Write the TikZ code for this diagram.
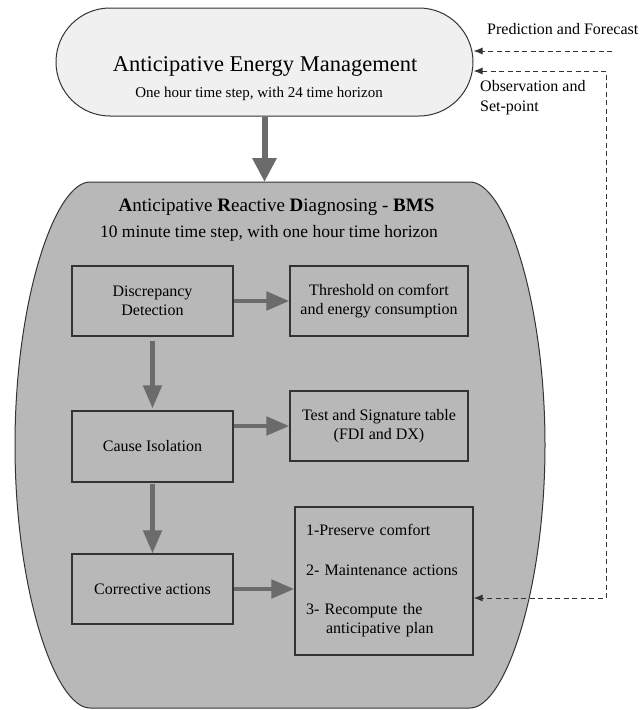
\documentclass[tikz,border=0pt]{standalone}
\usepackage{fontspec}
\setmainfont{Liberation Serif}
\usetikzlibrary{arrows.meta,shapes.misc}
\definecolor{grisfond}{HTML}{B8B8B8}
\definecolor{grisclair}{HTML}{F0F0F0}
\definecolor{grisfleche}{HTML}{6B6B6B}
\definecolor{trait}{HTML}{333333}
\begin{document}
\begin{tikzpicture}[x=1pt,y=-1pt]
% Styles
\tikzstyle{cadre}=[draw=trait,line width=1.2pt,inner sep=0pt,align=center,font=\fontsize{16}{19}\selectfont]
\tikzstyle{fleche}=[-{Triangle[length=23pt,width=18pt]},line width=4.8pt,draw=grisfleche]
\tikzstyle{pointille}=[->,>={Latex[length=9pt,width=7pt]},draw=trait,line width=1pt,dash pattern=on 5pt off 3.5pt]
\tikzstyle{texte}=[inner sep=0pt,font=\fontsize{16}{20}\selectfont]
% Dimensions
\def\colG{152.5}
\def\colD{379}
\def\LrgG{161pt}
\def\LrgD{178pt}
\def\HtB{70pt}
% Cadre de l'image
\useasboundingbox (0,0) rectangle (642,710);
% Zone BMS
\draw[draw=trait,line width=1pt,fill=grisfond] (90,182) -- (470,182)
  .. controls (505,182) and (545,300) .. (545,445)
  .. controls (545,590) and (505,708) .. (470,708) -- (90,708)
  .. controls (55,708) and (15,590) .. (15,445)
  .. controls (15,300) and (55,182) .. (90,182) -- cycle;
\coordinate (bmshaut) at (264.5,182);
\node[anchor=base,inner sep=0pt,font=\fontsize{19}{22}\selectfont] (bmstitre) at (276.5,211) {\textbf{A}nticipative \textbf{R}eactive \textbf{D}iagnosing - \textbf{BMS}};
\node[anchor=base,inner sep=0pt,font=\fontsize{17.5}{21}\selectfont] (bmssous) at (269,237) {10 minute time step, with one hour time horizon};
% Gestion anticipative
\node[rounded rectangle,draw=trait,line width=1pt,fill=grisclair,minimum width=417pt,minimum height=108pt,inner sep=0pt] (aem) at (264.5,62) {};
\node[anchor=base,inner sep=0pt,font=\fontsize{22.5}{27}\selectfont] (aemtitre) at (265,71) {Anticipative Energy Management};
\node[anchor=base,inner sep=0pt,font=\fontsize{15}{18}\selectfont] (aemsous) at (259,97) {One hour time step, with 24 time horizon};
% Boites
\node[cadre,minimum width=\LrgG,minimum height=\HtB] (disc) at (\colG,301) {Discrepancy\\Detection};
\node[cadre,minimum width=\LrgD,minimum height=\HtB] (seuil) at (\colD,301) {Threshold on comfort\\and energy consumption};
\node[cadre,minimum width=\LrgG,minimum height=71pt] (cause) at (\colG,446.5) {Cause Isolation};
\node[cadre,minimum width=\LrgD,minimum height=\HtB] (test) at (\colD,426) {Test and Signature table\\(FDI and DX)};
\node[cadre,minimum width=\LrgG,minimum height=\HtB] (corr) at (\colG,589) {Corrective actions};
\node[cadre,minimum width=\LrgD,minimum height=148pt,align=left,text width=156pt] (plan) at (384,581) {1-Preserve comfort\\[21pt]2- Maintenance actions\\[20pt]3- Recompute the\\\hspace*{20pt}anticipative plan};
% Flèches
\draw[fleche,line width=6pt,-{Triangle[length=24pt,width=23pt]}] (aem) -- (bmshaut);
\draw[fleche] (disc) -- (seuil);
\draw[fleche] (cause.east |- test) -- (test);
\draw[fleche] (corr) -- (corr -| plan.west);
\draw[fleche,shorten <=4pt,shorten >=2pt] (disc) -- (cause);
\draw[fleche,shorten <=1pt] (cause) -- (corr);
% Retours
\coordinate (prev) at (612,51);
\coordinate (obs) at (606,71);
\coordinate (retour) at (606,598);
\draw[pointille] (prev) -- (prev -| aem.east);
\draw[pointille,<->] (aem.east |- obs) -- (obs) -- (retour) -- (plan.east |- retour);
\node[texte,anchor=base west] (prevtxt) at (487,34) {Prediction and Forecast};
\node[texte,anchor=north west,align=left] (obstxt) at (480,80) {Observation and\\Set-point};
\end{tikzpicture}
\end{document}
